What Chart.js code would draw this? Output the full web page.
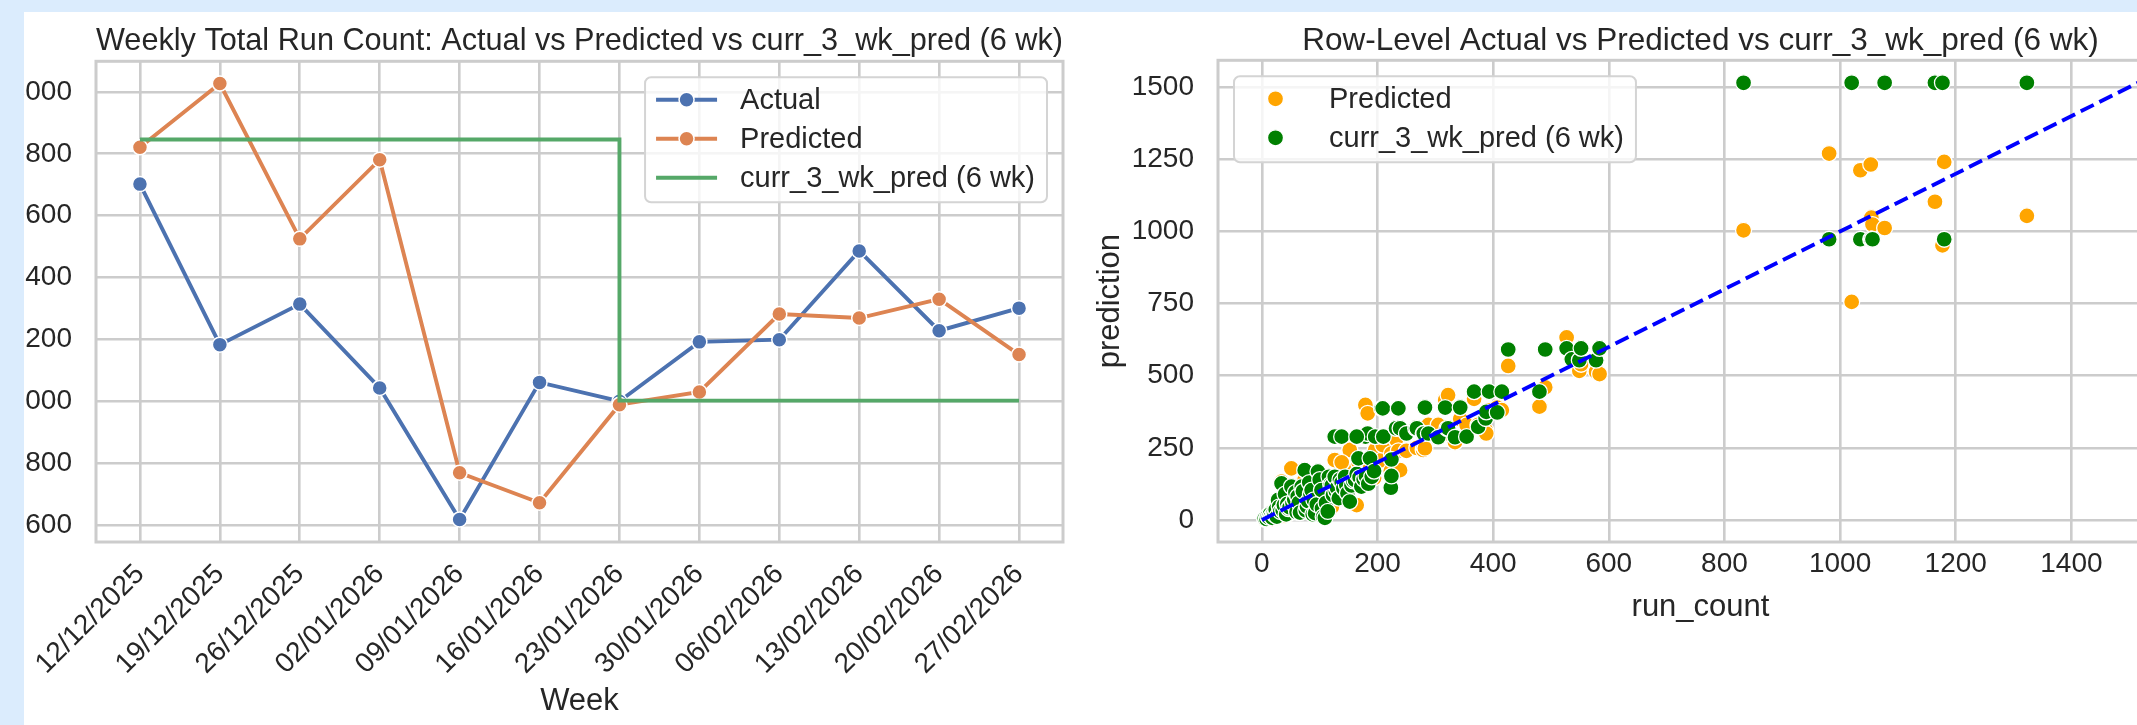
<!DOCTYPE html>
<html>
<head>
<meta charset="utf-8">
<script src="https://cdn.jsdelivr.net/npm/chart.js@4.4.1/dist/chart.umd.min.js"></script>
<style>
  html, body { margin: 0; padding: 0; }
  body { width: 2137px; height: 725px; background: #dbecfd; overflow: hidden; position: relative; }
  #panel { position: absolute; left: 24px; top: 12px; width: 2113px; height: 713px; background: #fff; overflow: hidden; }
  #weekly { position: absolute; left: -24px; top: -12px; }
  #rows { position: absolute; left: 1068px; top: -12px; }
</style>
</head>
<body>
<div id="panel">
  <canvas id="weekly" width="1100" height="725"></canvas>
  <canvas id="rows" width="1140" height="725"></canvas>
</div>
<script>
// weekly totals (left)
const weekLabels = ['12/12/2025', '19/12/2025', '26/12/2025', '02/01/2026', '09/01/2026', '16/01/2026',
  '23/01/2026', '30/01/2026', '06/02/2026', '13/02/2026', '20/02/2026', '27/02/2026'];
const actualTotals = [7702, 7183, 7314, 7043, 6618, 7061, 7000, 7192, 7199, 7486, 7228, 7301];
const predictedTotals = [7821, 8027, 7525, 7781, 6769, 6672, 6989, 7030, 7282, 7269, 7330, 7151];
// curr_3_wk_pred steps down at week 6, so that week appears twice
const currWeekIdx = [0, 1, 2, 3, 4, 5, 6, 6, 7, 8, 9, 10, 11];
const currTotals = [7846, 7846, 7846, 7846, 7846, 7846, 7846, 7002, 7002, 7002, 7002, 7002, 7002];

// row level (right): one entry per row
const runCount = [
  5, 8, 10, 12, 14, 16, 18, 20, 22, 24, 26, 28, 30, 32, 34, 36, 38, 40, 42, 44,
  46, 48, 51, 53, 56, 58, 60, 62, 64, 66, 69, 71, 74, 76, 78, 80, 82, 84, 86, 88,
  90, 92, 95, 97, 100, 103, 104, 106, 109, 111, 114, 116, 119, 121, 123, 126, 128, 130, 133, 135,
  138, 141, 144, 146, 148, 152, 155, 158, 161, 164, 167, 169, 172, 176, 180, 184, 187, 190, 194,
  179, 183, 126, 138, 164, 196, 207, 209, 210, 223, 224, 224, 232, 236, 239, 250, 266, 268, 279, 280,
  282, 288, 305, 317, 320, 322, 334, 343, 354, 367, 374, 387, 388, 393, 407, 415, 426, 480, 490, 527,
  536, 549, 552, 578, 584,
  833, 981, 1020, 1035, 1053, 1054, 1056, 1077, 1164, 1177, 1180, 1323
];
const rowPredicted = [
  3, 12, 6, 18, 9, 24, 4, 14, 30, 20, 10, 40, 26, 55, 133, 48, 16, 62, 34, 80,
  22, 70, 179, 90, 44, 110, 64, 76, 100, 50, 96, 120, 140, 60, 86, 30, 62, 104, 125, 46,
  100, 72, 112, 150, 110, 135, 58, 82, 96, 130, 74, 100, 146, 46, 110, 208, 90, 140, 118, 120,
  162, 96, 130, 150, 100, 243, 140, 176, 150, 52, 200, 128, 150, 170, 132, 180, 190, 160, 146,
  399, 370, 208, 200, 160, 243, 208, 260, 290, 170, 230, 150, 280, 240, 173, 240, 320, 250, 243, 256,
  249, 330, 330, 416, 300, 433, 270, 350, 330, 420, 330, 312, 300, 380, 390, 381, 534, 393, 460, 633,
  560, 517, 540, 514, 506,
  1004, 1270, 756, 1212, 1232, 1048, 1024, 1012, 1103, 952, 1241, 1054
];
const rowCurr3wk = [
  6, 4, 14, 10, 20, 13, 8, 24, 18, 36, 12, 70, 46, 30, 127, 34, 52, 90, 20, 56,
  40, 44, 116, 58, 72, 96, 28, 82, 60, 26, 116, 100, 173, 34, 48, 66, 130, 90, 104, 20,
  70, 24, 54, 168, 140, 104, 40, 12, 8, 60, 30, 150, 124, 120, 87, 150, 100, 112, 76, 140,
  130, 110, 150, 122, 93, 64, 120, 136, 139, 160, 214, 148, 116, 142, 152, 126, 214, 150, 170,
  289, 300, 289, 289, 289, 289, 387, 387, 289, 112, 210, 153, 318, 387, 318, 300, 318, 318, 300, 300,
  390, 300, 287, 390, 318, 318, 287, 390, 289, 445, 323, 352, 375, 445, 373, 445, 591, 445, 591, 595,
  557, 554, 595, 554, 595,
  1515, 973, 1515, 973, 973, 973, 973, 1515, 1515, 1515, 973, 1515
];
const diagonal = [0, 1517];

const FONT = '"Liberation Sans", Arial, sans-serif';
const INK = '#262626';
Chart.defaults.font.family = FONT;
Chart.defaults.color = INK;
Chart.defaults.animation = false;

// axes frame on all four sides
const frame = {
  id: 'frame',
  beforeDatasetsDraw(chart) {
    const { ctx, chartArea: a } = chart;
    ctx.save();
    ctx.strokeStyle = '#cccccc';
    ctx.lineWidth = 3;
    ctx.strokeRect(a.left, a.top, a.right - a.left, a.bottom - a.top);
    ctx.restore();
  }
};

// matplotlib-like legend drawn inside the plot
const boxLegend = {
  id: 'boxLegend',
  afterDatasetsDraw(chart, args, opts) {
    const { ctx, chartArea: a } = chart;
    const items = chart.data.datasets.filter(d => d.label);
    ctx.save();
    ctx.font = '29px ' + FONT;
    const textW = Math.max(...items.map(d => ctx.measureText(d.label).width));
    const w = 11 + 61 + 23 + textW + 12;
    const h = 22.5 + 39 * (items.length - 1) + 24.5;
    const x = opts.align === 'right' ? a.right - 16 - w : a.left + 16;
    const y = a.top + 16;
    ctx.beginPath();
    ctx.roundRect(x, y, w, h, 6);
    ctx.fillStyle = 'rgba(255,255,255,0.8)';
    ctx.fill();
    ctx.strokeStyle = '#d4d4d4';
    ctx.lineWidth = 2;
    ctx.stroke();
    items.forEach((d, i) => {
      const cy = y + 22.5 + 39 * i;
      const cx = x + 11 + 30.5;
      if (d.showLine !== false) {
        ctx.beginPath();
        ctx.moveTo(x + 11, cy);
        ctx.lineTo(x + 72, cy);
        ctx.strokeStyle = d.borderColor;
        ctx.lineWidth = d.borderWidth;
        ctx.stroke();
      }
      if (d.pointRadius > 0) {
        ctx.beginPath();
        ctx.arc(cx, cy, d.pointRadius, 0, Math.PI * 2);
        ctx.fillStyle = d.pointBackgroundColor;
        ctx.fill();
        ctx.strokeStyle = '#fff';
        ctx.lineWidth = d.pointBorderWidth;
        ctx.stroke();
      }
      ctx.fillStyle = INK;
      ctx.textBaseline = 'middle';
      ctx.fillText(d.label, x + 95, cy + 1);
    });
    ctx.restore();
  }
};

const gridStyle = { color: '#cccccc', lineWidth: 2.6, drawTicks: false };

new Chart(document.getElementById('weekly'), {
  type: 'line',
  data: {
    datasets: [
      {
        label: 'Actual',
        data: actualTotals.map((v, i) => ({ x: i, y: v })),
        borderColor: '#4C72B0', borderWidth: 3.9,
        pointRadius: 7.5, pointBackgroundColor: '#4C72B0', pointBorderColor: '#fff', pointBorderWidth: 1.5,
        order: 2
      },
      {
        label: 'Predicted',
        data: predictedTotals.map((v, i) => ({ x: i, y: v })),
        borderColor: '#DD8452', borderWidth: 3.9,
        pointRadius: 7.5, pointBackgroundColor: '#DD8452', pointBorderColor: '#fff', pointBorderWidth: 1.5,
        order: 1
      },
      {
        label: 'curr_3_wk_pred (6 wk)',
        data: currTotals.map((v, i) => ({ x: currWeekIdx[i], y: v })),
        borderColor: '#55A868', borderWidth: 3.9,
        pointRadius: 0,
        order: 0
      }
    ]
  },
  options: {
    responsive: false,
    events: [],
    layout: { padding: { right: 37 } },
    scales: {
      x: {
        type: 'linear', min: -0.55, max: 11.55,
        afterFit: s => { s.height = 183; },
        ticks: {
          stepSize: 1, includeBounds: false, autoSkip: false,
          minRotation: 45, maxRotation: 45, padding: 16,
          font: { size: 28 },
          callback: v => weekLabels[v]
        },
        grid: gridStyle,
        border: { display: false },
        title: { display: true, text: 'Week', font: { size: 31 }, padding: { bottom: 5 } }
      },
      y: {
        min: 6545, max: 8099,
        afterFit: s => { s.width = 96; },
        ticks: { stepSize: 200, includeBounds: false, padding: 24, font: { size: 28 }, callback: v => String(v) },
        grid: gridStyle,
        border: { display: false }
      }
    },
    plugins: {
      legend: { display: false },
      tooltip: { enabled: false },
      title: {
        display: true, fullSize: false,
        text: 'Weekly Total Run Count: Actual vs Predicted vs curr_3_wk_pred (6 wk)',
        font: { size: 31.5, weight: 'normal' }, color: INK,
        padding: { top: 22, bottom: 1.5 }
      },
      boxLegend: { align: 'right' }
    }
  },
  plugins: [frame, boxLegend]
});

new Chart(document.getElementById('rows'), {
  type: 'scatter',
  data: {
    datasets: [
      {
        label: 'Predicted',
        data: runCount.map((r, i) => ({ x: r, y: rowPredicted[i] })),
        showLine: false,
        pointRadius: 8, pointBackgroundColor: '#FFA500', pointBorderColor: '#fff', pointBorderWidth: 1.3,
        order: 2
      },
      {
        label: 'curr_3_wk_pred (6 wk)',
        data: runCount.map((r, i) => ({ x: r, y: rowCurr3wk[i] })),
        showLine: false,
        pointRadius: 8, pointBackgroundColor: '#008000', pointBorderColor: '#fff', pointBorderWidth: 1.3,
        order: 1
      },
      {
        label: '',
        data: diagonal.map(v => ({ x: v, y: v })),
        showLine: true,
        borderColor: '#0000FF', borderWidth: 3.9, borderDash: [14.5, 6.3],
        pointRadius: 0,
        order: 0
      }
    ]
  },
  options: {
    responsive: false,
    events: [],
    layout: { padding: { right: 49 } },
    scales: {
      x: {
        type: 'linear', min: -75.9, max: 1593,
        afterFit: s => { s.height = 183; },
        ticks: { stepSize: 200, includeBounds: false, padding: 5, font: { size: 28 }, callback: v => String(v) },
        grid: gridStyle,
        border: { display: false },
        title: { display: true, text: 'run_count', font: { size: 31 }, padding: { bottom: 99 } }
      },
      y: {
        min: -75.9, max: 1593,
        afterFit: s => { s.width = 126; },
        ticks: { stepSize: 250, includeBounds: false, padding: 24, font: { size: 28 }, callback: v => String(v) },
        grid: gridStyle,
        border: { display: false },
        title: { display: true, text: 'prediction', font: { size: 31 }, padding: { top: 0, bottom: 0 } }
      }
    },
    plugins: {
      legend: { display: false },
      tooltip: { enabled: false },
      title: {
        display: true, fullSize: false,
        text: 'Row-Level Actual vs Predicted vs curr_3_wk_pred (6 wk)',
        font: { size: 31.5, weight: 'normal' }, color: INK,
        padding: { top: 22, bottom: 0.5 }
      },
      boxLegend: { align: 'left' }
    }
  },
  plugins: [frame, boxLegend]
});
</script>
</body>
</html>
